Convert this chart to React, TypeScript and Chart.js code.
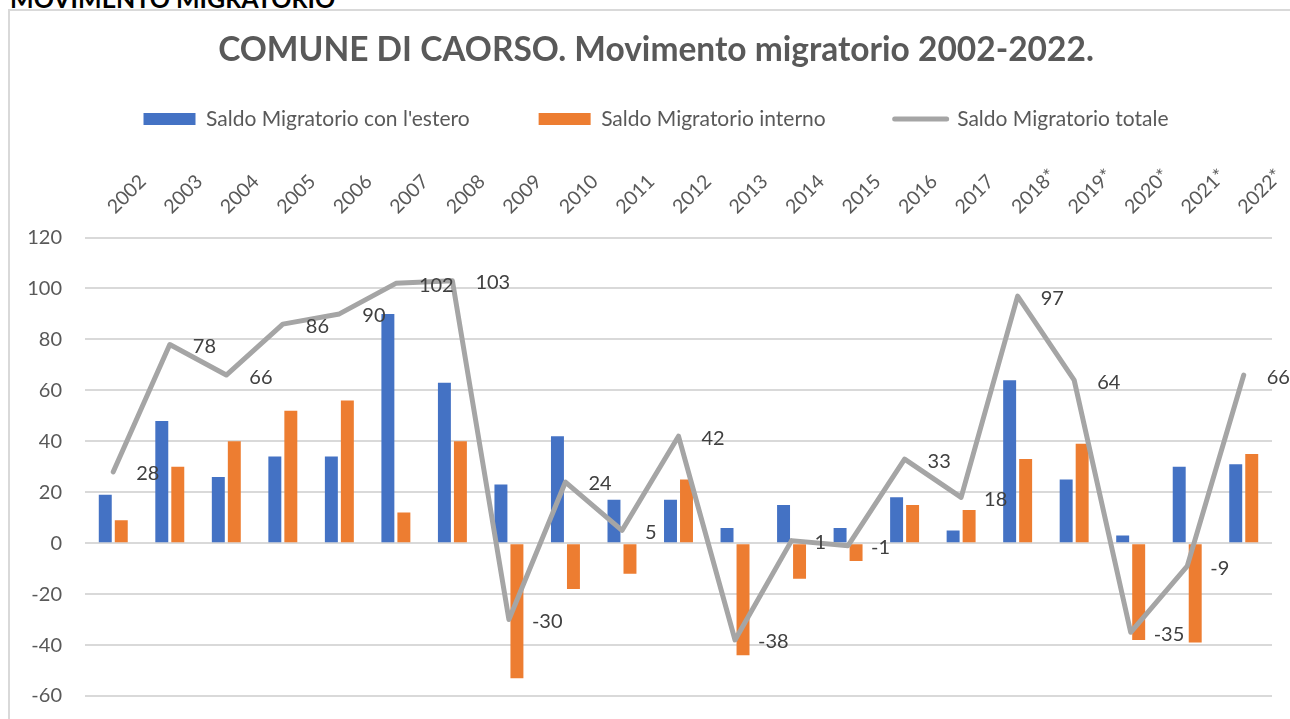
import React, { useEffect, useRef } from "react";
import { Chart, registerables } from "chart.js";

Chart.register(...registerables);

const years = ["2002","2003","2004","2005","2006","2007","2008","2009","2010","2011","2012","2013","2014","2015","2016","2017","2018*","2019*","2020*","2021*","2022*"];
const saldoEstero = [19,48,26,34,34,90,63,23,42,17,17,6,15,6,18,5,64,25,3,30,31];
const saldoInterno = [9,30,40,52,56,12,40,-53,-18,-12,25,-44,-14,-7,15,13,33,39,-38,-39,35];
const saldoTotale = [28,78,66,86,90,102,103,-30,24,5,42,-38,1,-1,33,18,97,64,-35,-9,66];

const FONT = "Lato";
const CANVAS_W = 1294;
const CANVAS_H = 720;

const lineLabels = {
  id: "lineLabels",
  afterDatasetsDraw(chart: any) {
    const meta = chart.getDatasetMeta(2);
    const ds = chart.data.datasets[2];
    const ctx = chart.ctx;
    ctx.save();
    ctx.font = `20px ${FONT}`;
    ctx.fillStyle = "#404040";
    ctx.textAlign = "left";
    ctx.textBaseline = "middle";
    meta.data.forEach((pt: any, i: number) => {
      ctx.fillText(String(ds.data[i]), pt.x + 23, pt.y + 2);
    });
    ctx.restore();
  },
};

export default function App() {
  const ref = useRef<HTMLCanvasElement | null>(null);
  useEffect(() => {
    if (!ref.current) return;
    const chart = new Chart(ref.current, {
      type: "bar",
      data: {
        labels: years,
        datasets: [
          {
            type: "bar",
            label: "Saldo Migratorio con l'estero",
            data: saldoEstero,
            backgroundColor: "#4472c4",
            borderWidth: 0,
            order: 1,
            categoryPercentage: 0.566,
            barPercentage: 0.81,
          },
          {
            type: "bar",
            label: "Saldo Migratorio interno",
            data: saldoInterno,
            backgroundColor: "#ed7d31",
            borderWidth: 0,
            order: 1,
            categoryPercentage: 0.566,
            barPercentage: 0.81,
          },
          {
            type: "line",
            label: "Saldo Migratorio totale",
            data: saldoTotale,
            borderColor: "#a5a5a5",
            backgroundColor: "#a5a5a5",
            borderWidth: 5,
            borderCapStyle: "round",
            borderJoinStyle: "round",
            pointRadius: 0,
            pointHoverRadius: 0,
            tension: 0,
            order: 0,
          } as any,
        ],
      },
      options: {
        responsive: false,
        animation: false,
        devicePixelRatio: 1,
        layout: { padding: { top: 0, left: 30, right: 32, bottom: 26 } },
        plugins: {
          title: {
            display: true,
            text: "COMUNE DI CAORSO. Movimento migratorio 2002-2022.",
            color: "#595959",
            font: { family: FONT, size: 33.5, weight: "bold", lineHeight: 1 },
            padding: { top: 22, bottom: -27 },
          },
          legend: {
            display: true,
            position: "top",
            labels: {
              usePointStyle: true,
              pointStyleWidth: 52,
              boxHeight: 12,
              padding: 69,
              color: "#595959",
              font: { family: FONT, size: 21 },
              generateLabels(chart: any) {
                return chart.data.datasets.map((d: any, i: number) => ({
                  text: d.label,
                  fillStyle: d.type === "line" ? "#a5a5a5" : d.backgroundColor,
                  strokeStyle: d.type === "line" ? "#a5a5a5" : d.backgroundColor,
                  lineWidth: d.type === "line" ? 5 : 0,
                  lineCap: "round",
                  pointStyle: d.type === "line" ? "line" : "rect",
                  fontColor: "#595959",
                  hidden: false,
                  datasetIndex: i,
                }));
              },
            },
          },
          tooltip: { enabled: false },
        },
        scales: {
          x: {
            position: "top",
            grid: { display: false, drawTicks: false },
            border: { display: false },
            ticks: {
              minRotation: 45,
              maxRotation: 45,
              padding: 19,
              labelOffset: 14,
              color: "#595959",
              font: { family: FONT, size: 19.5 },
              autoSkip: false,
            },
            afterFit(scale: any) {
              scale.height = 98;
            },
          },
          y: {
            min: -60,
            max: 120,
            grid: { color: "#d9d9d9", lineWidth: 2, drawTicks: false },
            border: { display: false },
            ticks: {
              stepSize: 20,
              padding: 23,
              color: "#595959",
              font: { family: FONT, size: 20 },
            },
            afterFit(scale: any) {
              scale.width = 45;
              // let the tick labels extend into the left layout padding
              scale._computeLabelArea = () => undefined;
            },
          },
        },
      },
      plugins: [lineLabels],
    });
    return () => chart.destroy();
  }, []);

  return (
    <div style={{ position: "fixed", left: 0, top: 0, width: 1290, height: 719, overflow: "hidden", background: "#fff" }}>
      <div style={{ position: "absolute", left: 10, top: -14, fontFamily: FONT, fontWeight: 700, fontSize: 25, lineHeight: "25px", color: "#000", whiteSpace: "nowrap" }}>
        MOVIMENTO MIGRATORIO
      </div>
      <div style={{ position: "absolute", left: 8, top: 9, width: 1400, height: 800, border: "2px solid #d9d9d9", boxSizing: "border-box" }} />
      <canvas ref={ref} width={CANVAS_W} height={CANVAS_H} style={{ position: "absolute", left: 10, top: 11, width: CANVAS_W, height: CANVAS_H }} />
    </div>
  );
}
